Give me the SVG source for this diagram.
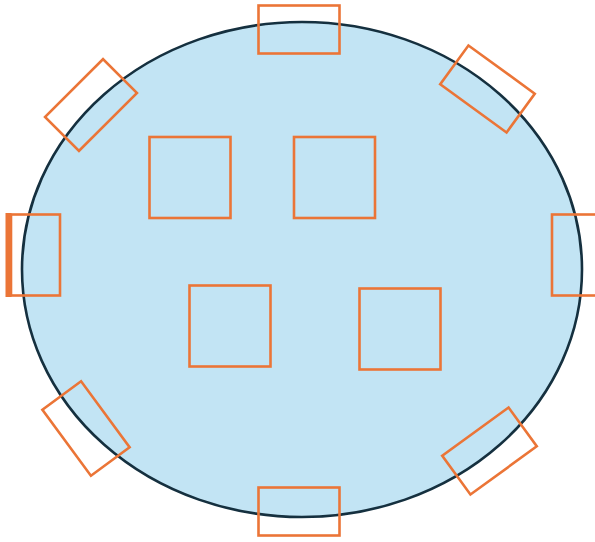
<svg xmlns="http://www.w3.org/2000/svg" width="595" height="542" viewBox="0 0 595 542">
  <style>
    .box { fill: none; stroke: #EB7537; stroke-width: 2.6; }
    .body { fill: #C2E4F4; stroke: #15303F; stroke-width: 2.6; }
  </style>
  <rect width="595" height="542" fill="#FFFFFF"/>
  <g id="table">
    <ellipse class="body" cx="302" cy="269.5" rx="280" ry="247.5"/>
  </g>
  <g id="connectors"></g>
  <g id="inner-1"><rect class="box" x="149.5" y="137" width="81" height="81"/></g>
  <g id="inner-2"><rect class="box" x="294" y="137" width="81" height="81"/></g>
  <g id="inner-3"><rect class="box" x="189.5" y="285.5" width="81" height="81"/></g>
  <g id="inner-4"><rect class="box" x="359.5" y="288.5" width="81" height="81"/></g>
  <g id="seat-top"><rect class="box" x="258.5" y="5.5" width="81" height="48"/></g>
  <g id="seat-bottom"><rect class="box" x="258.5" y="487.5" width="81" height="48"/></g>
  <g id="seat-left">
    <rect class="box" x="11" y="214.5" width="49" height="81"/>
    <rect x="5.5" y="213" width="6" height="84" fill="#EB7537"/>
  </g>
  <g id="seat-right"><rect class="box" x="552" y="214.5" width="49" height="81"/></g>
  <g id="seat-top-left"><rect class="box" x="-41" y="-24" width="82" height="48" transform="translate(91,105) rotate(-45)"/></g>
  <g id="seat-top-right"><rect class="box" x="-41" y="-24" width="82" height="48" transform="translate(487.5,89) rotate(36)"/></g>
  <g id="seat-bottom-left"><rect class="box" x="-41" y="-24" width="82" height="48" transform="translate(86,428.5) rotate(53.7)"/></g>
  <g id="seat-bottom-right"><rect class="box" x="-41" y="-24" width="82" height="48" transform="translate(489.5,451) rotate(-36)"/></g>
</svg>
